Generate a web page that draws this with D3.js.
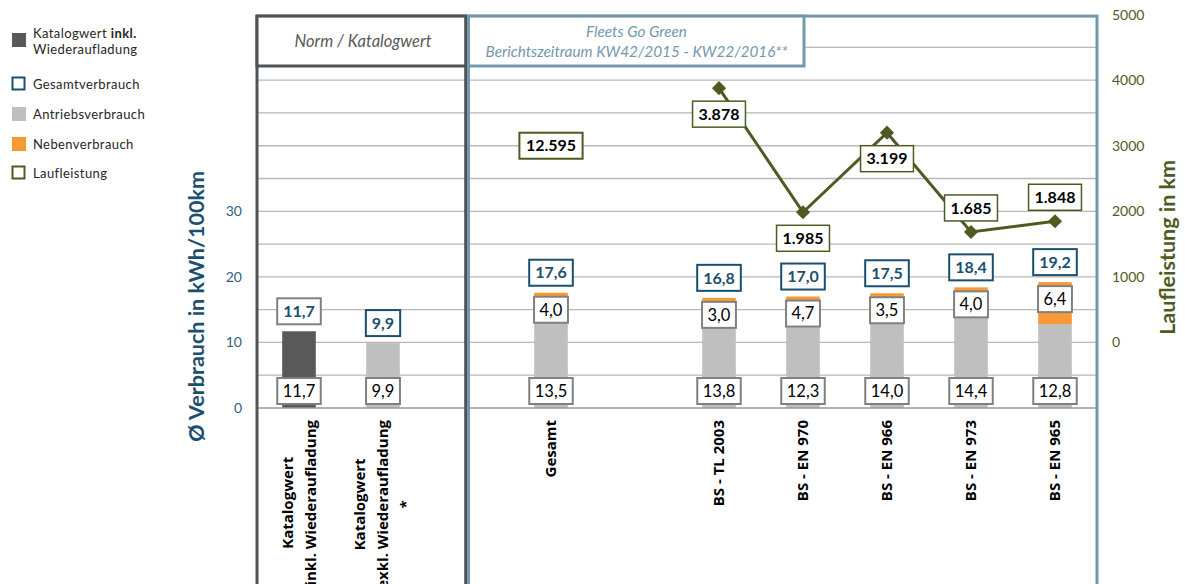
<!DOCTYPE html>
<html>
<head>
<meta charset="utf-8">
<script src="https://cdn.jsdelivr.net/npm/d3@7/dist/d3.min.js"></script>
<style>
  html, body { margin: 0; padding: 0; background: #ffffff; }
  svg { display: block; font-family: Lato, "Open Sans", sans-serif; }
</style>
</head>
<body>
<svg id="chart" width="1185" height="584"></svg>
<script>
// Kategorien (leere Einträge sind Abstände zwischen den Gruppen)
const categories = [
  "Katalogwert\ninkl. Wiederaufladung",
  "Katalogwert\nexkl. Wiederaufladung\n*",
  "",
  "Gesamt",
  "",
  "BS - TL 2003",
  "BS - EN 970",
  "BS - EN 966",
  "BS - EN 973",
  "BS - EN 965"
];

// Verbrauchswerte in kWh/100km
const katalogInkl   = [11.7, null, null, null,  null, null, null, null, null, null];
const antrieb       = [null, 9.9,  null, 13.54, null, 13.8, 12.3, 14.0, 14.4, 12.8];
const neben         = [null, null, null, 4.04,  null, 3.0,  4.7,  3.5,  4.0,  6.4];
const gesamt        = [11.7, 9.9,  null, 17.58, null, 16.8, 17.0, 17.5, 18.4, 19.2];

// Laufleistung in km
const laufleistung  = [null, null, null, 12595, null, 3878, 1985, 3199, 1685, 1848];

// Achsenbeschriftungen
const leftTicks  = [0, 10, 20, 30];
const rightTicks = [0, 1000, 2000, 3000, 4000, 5000];
const gridValues = [5, 10, 15, 20, 25, 30, 35, 40, 45, 50, 55];

const C = {
  katalog: "#595959",
  antrieb: "#bfbfbf",
  neben: "#f79a36",
  blue: "#1b4f70",
  blueTick: "#2f5f80",
  olive: "#4f5a22",
  grid: "#b8b8b8",
  axis: "#9a9a9a",
  sectionDark: "#4d5357",
  sectionBlue: "#7398ae",
  labelGray: "#808080"
};

const svg = d3.select("#chart");
const fmt = v => d3.format(".1f")(v).replace(".", ",");
const fmtKm = v => d3.format(",")(v).replace(/,/g, ".");

// Skalen
const x = d3.scaleBand().domain(d3.range(categories.length)).range([257, 1097]).padding(0);
const yL = d3.scaleLinear().domain([0, 60]).range([408, 14.6]);
const yR = d3.scaleLinear().domain([-1000, 5000]).range([408, 14.6]);
const barW = x.bandwidth() * 0.4;
const cx = i => x(i) + x.bandwidth() / 2;

// Gitternetz
svg.append("g").selectAll("line").data(gridValues).join("line")
  .attr("x1", 257).attr("x2", 1097)
  .attr("y1", d => yL(d)).attr("y2", d => yL(d))
  .attr("stroke", C.grid).attr("stroke-width", 1.3);

// Balken
const bars = svg.append("g");
categories.forEach((c, i) => {
  if (katalogInkl[i] != null) {
    bars.append("rect")
      .attr("x", cx(i) - barW / 2).attr("width", barW)
      .attr("y", yL(katalogInkl[i])).attr("height", yL(0) - yL(katalogInkl[i]))
      .attr("fill", C.katalog);
  }
  if (antrieb[i] != null) {
    bars.append("rect")
      .attr("x", cx(i) - barW / 2).attr("width", barW)
      .attr("y", yL(antrieb[i])).attr("height", yL(0) - yL(antrieb[i]))
      .attr("fill", C.antrieb);
  }
  if (neben[i] != null) {
    const b = antrieb[i] || 0;
    bars.append("rect")
      .attr("x", cx(i) - barW / 2).attr("width", barW)
      .attr("y", yL(b + neben[i])).attr("height", yL(b) - yL(b + neben[i]))
      .attr("fill", C.neben);
  }
});

// Nulllinie
svg.append("line")
  .attr("x1", 257).attr("x2", 1097).attr("y1", yL(0)).attr("y2", yL(0))
  .attr("stroke", C.axis).attr("stroke-width", 1.5);

// Abschnittsrahmen
const divider = x(2) + x.bandwidth() / 2;
const sectionTop = yL(60) + 1.5;
const headerBottom = 66;

svg.append("rect")
  .attr("x", 257).attr("y", sectionTop).attr("width", divider - 1.3 - 257).attr("height", 600)
  .attr("fill", "none").attr("stroke", C.sectionDark).attr("stroke-width", 3);
svg.append("rect")
  .attr("x", 257).attr("y", sectionTop).attr("width", divider - 1.3 - 257).attr("height", headerBottom - sectionTop)
  .attr("fill", "#fff").attr("stroke", C.sectionDark).attr("stroke-width", 3);
svg.append("text")
  .attr("x", (257 + divider) / 2 + 1).attr("y", 47)
  .attr("text-anchor", "middle").attr("font-style", "italic")
  .attr("font-size", 16.5).attr("fill", "#595959")
  .text("Norm / Katalogwert");

svg.append("rect")
  .attr("x", divider + 1.5).attr("y", sectionTop).attr("width", 1097 - divider - 1.5).attr("height", 600)
  .attr("fill", "none").attr("stroke", C.sectionBlue).attr("stroke-width", 3);
svg.append("rect")
  .attr("x", divider + 1.5).attr("y", sectionTop).attr("width", 804 - divider - 1.5).attr("height", headerBottom - sectionTop)
  .attr("fill", "#fff").attr("stroke", C.sectionBlue).attr("stroke-width", 3);
const hdr = svg.append("text")
  .attr("text-anchor", "middle").attr("font-style", "italic")
  .attr("font-size", 15.3).attr("fill", C.sectionBlue);
hdr.append("tspan").attr("x", (divider + 804) / 2 + 1).attr("y", 37).text("Fleets Go Green");
hdr.append("tspan").attr("x", (divider + 804) / 2 + 1).attr("y", 57).text("Berichtszeitraum KW42/2015  - KW22/2016**");

// Beschriftungskästchen
function labelBox(cxp, cyp, txt, o) {
  const g = svg.append("g");
  const t = g.append("text")
    .attr("x", cxp).attr("y", cyp).attr("dy", "0.36em")
    .attr("text-anchor", "middle")
    .attr("font-size", o.size || 16)
    .attr("font-weight", o.bold ? "bold" : "normal")
    .attr("fill", o.color)
    .text(txt);
  const w = t.node().getComputedTextLength() + (o.padX || 12);
  const h = o.h || 26;
  g.insert("rect", "text")
    .attr("x", cxp - w / 2).attr("y", cyp - h / 2)
    .attr("width", w).attr("height", h)
    .attr("fill", "#fff").attr("stroke", o.stroke).attr("stroke-width", o.sw || 2);
}

// Werte am Balkenfuß
categories.forEach((c, i) => {
  const base = katalogInkl[i] != null ? katalogInkl[i] : antrieb[i];
  if (base != null) {
    labelBox(cx(i), yL(0) - 17, fmt(base), { color: "#000", stroke: C.labelGray, size: 16.5, padX: 11 });
  }
});

// Nebenverbrauch-Werte (innen am Segmentende)
categories.forEach((c, i) => {
  if (neben[i] != null) {
    const t = yL(antrieb[i] + neben[i]);
    labelBox(cx(i), t + 17, fmt(neben[i]), { color: "#000", stroke: C.labelGray, size: 16.5, padX: 11 });
  }
});

// Gesamtverbrauch über den Balken
categories.forEach((c, i) => {
  if (gesamt[i] != null) {
    labelBox(cx(i), yL(gesamt[i]) - 20, fmt(gesamt[i]), {
      color: C.blue, stroke: katalogInkl[i] != null ? C.labelGray : C.blue, bold: true, size: 16, padX: 12
    });
  }
});

// Laufleistung: Linie der Einzelfahrzeuge
const vehicleIdx = d3.range(5, categories.length);
const line = d3.line().x(i => cx(i)).y(i => yR(laufleistung[i]));
svg.append("path")
  .attr("d", line(vehicleIdx))
  .attr("fill", "none").attr("stroke", C.olive).attr("stroke-width", 3);
svg.append("g").selectAll("path").data(vehicleIdx).join("path")
  .attr("d", d3.symbol(d3.symbolSquare, 100))
  .attr("transform", i => `translate(${cx(i)},${yR(laufleistung[i])}) rotate(45)`)
  .attr("fill", C.olive);

// Laufleistung-Werte (unter bzw. über dem Punkt)
const placeAbove = new Set([8, 9]);
vehicleIdx.forEach(i => {
  const py = yR(laufleistung[i]);
  labelBox(cx(i), placeAbove.has(i) ? py - 24 : py + 26, fmtKm(laufleistung[i]), {
    color: "#000", stroke: C.olive, bold: true, size: 16, padX: 12, sw: 1.5
  });
});
// Gesamt-Laufleistung liegt außerhalb der Achse; Wert auf Höhe 3000 km
labelBox(cx(3), yR(3000), fmtKm(laufleistung[3]), {
  color: "#000", stroke: C.olive, bold: true, size: 16, padX: 13, sw: 2
});

// Linke Achse
svg.append("g").selectAll("text").data(leftTicks).join("text")
  .attr("x", 242).attr("y", d => yL(d)).attr("dy", "0.36em")
  .attr("text-anchor", "end").attr("font-size", 14).attr("fill", C.blueTick)
  .text(d => d);
svg.append("text")
  .attr("transform", `translate(196,${yL(15.5)}) rotate(-90)`)
  .attr("text-anchor", "middle").attr("dy", "0.36em")
  .attr("font-size", 21.5).attr("font-weight", "bold").attr("fill", C.blue)
  .text("Ø Verbrauch in kWh/100km");

// Rechte Achse
svg.append("g").selectAll("text").data(rightTicks).join("text")
  .attr("x", 1112).attr("y", d => yR(d)).attr("dy", "0.36em")
  .attr("text-anchor", "start").attr("font-size", 14).attr("fill", C.olive)
  .text(d => d);
svg.append("text")
  .attr("transform", `translate(1167,${yR(1450)}) rotate(-90)`)
  .attr("text-anchor", "middle").attr("dy", "0.36em")
  .attr("font-size", 21.5).attr("font-weight", "bold").attr("fill", C.olive)
  .text("Laufleistung in km");

// Kategorienbeschriftung (senkrecht)
const labelTop = 420;
const lineH = 23;
categories.forEach((c, i) => {
  if (!c) return;
  const lines = c.split("\n");
  const t = svg.append("text")
    .attr("font-family", "'Open Sans', sans-serif")
    .attr("font-size", 15).attr("font-weight", "bold").attr("fill", "#000")
    .attr("text-anchor", "middle");
  lines.forEach((l, k) => {
    t.append("tspan").attr("x", 0).attr("y", (k - (lines.length - 1) / 2) * lineH).attr("dy", "0.36em").text(l);
  });
  let maxLen = 0;
  t.selectAll("tspan").each(function () { maxLen = Math.max(maxLen, this.getComputedTextLength()); });
  t.attr("transform", `translate(${cx(i)},${labelTop + maxLen / 2}) rotate(-90)`);
});

// Legende
const legend = [
  { lines: [["Katalogwert ", false], ["inkl.", true]], second: "Wiederaufladung", fill: C.katalog, stroke: null, y: 40 },
  { lines: [["Gesamtverbrauch", false]], fill: "#fff", stroke: C.blue, y: 84 },
  { lines: [["Antriebsverbrauch", false]], fill: C.antrieb, stroke: null, y: 114 },
  { lines: [["Nebenverbrauch", false]], fill: C.neben, stroke: null, y: 144 },
  { lines: [["Laufleistung", false]], fill: "#fff", stroke: C.olive, y: 173 }
];
legend.forEach(d => {
  svg.append("rect")
    .attr("x", d.stroke ? 12.5 : 12).attr("y", d.y - 7 + (d.stroke ? 0.5 : 0))
    .attr("width", d.stroke ? 12 : 14).attr("height", d.stroke ? 12 : 14)
    .attr("fill", d.fill)
    .attr("stroke", d.stroke || "none").attr("stroke-width", 2);
  const ty = d.second ? d.y - 7 : d.y;
  const t = svg.append("text").attr("x", 33).attr("y", ty).attr("dy", "0.36em")
    .attr("font-size", 13).attr("fill", "#262626").attr("letter-spacing", 0.4);
  d.lines.forEach(([s, b]) => t.append("tspan").attr("font-weight", b ? "bold" : "normal").text(s));
  if (d.second) {
    svg.append("text").attr("x", 33).attr("y", d.y + 9).attr("dy", "0.36em")
      .attr("font-size", 13).attr("fill", "#262626").attr("letter-spacing", 0.4)
      .text(d.second);
  }
});
</script>
</body>
</html>
